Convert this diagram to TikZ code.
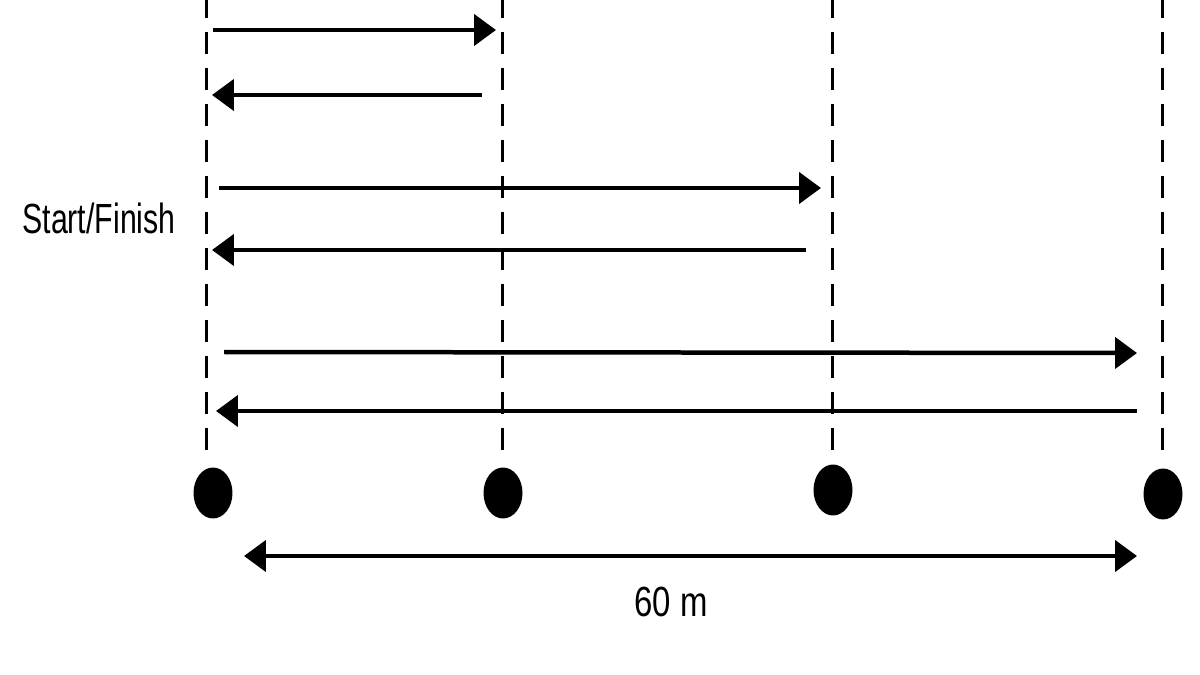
\documentclass[tikz,border=0pt]{standalone}
\usepackage{fontspec}
\setmainfont{Liberation Sans}
\usetikzlibrary{arrows.meta,shapes.geometric}
\begin{document}
\begin{tikzpicture}[x=0.02cm,y=-0.02cm,
  guide/.style={line width=0.06cm,dash pattern=on 0.44cm off 0.28cm},
  cone/.style={ellipse,fill=black,minimum width=0.78cm,minimum height=1.02cm,inner sep=0pt},
  run/.style={line width=0.09cm,-{Triangle[length=0.44cm,width=0.62cm]}},
  lbl/.style={font=\fontsize{24}{28}\selectfont,xscale=0.78,anchor=center}]
\useasboundingbox (0,0) rectangle (1200,675);
% cones
\node[cone] (d1) at (213,493) {};
\node[cone] (d2) at (503,493) {};
\node[cone] (d3) at (833,490) {};
\node[cone] (d4) at (1163,494) {};
% guide tops and bottoms
\coordinate (t1) at (206,-4); \coordinate (b1) at (206,458);
\coordinate (t2) at (502,-4); \coordinate (b2) at (502,458);
\coordinate (t3) at (832,-4); \coordinate (b3) at (832,458);
\coordinate (t4) at (1162,-4); \coordinate (b4) at (1162,458);
\draw[guide] (t1) -- (b1);
\draw[guide] (t2) -- (b2);
\draw[guide] (t3) -- (b3);
\draw[guide] (t4) -- (b4);
% runs
\coordinate (a1s) at (213,30); \coordinate (a1e) at (496,30);
\coordinate (a2s) at (482,95); \coordinate (a2e) at (212,95);
\coordinate (a3s) at (219,188); \coordinate (a3e) at (821,188);
\coordinate (a4s) at (806,250); \coordinate (a4e) at (212,250);
\coordinate (a5s) at (224,352); \coordinate (a5e) at (1137,353);
\coordinate (a6s) at (1137,411); \coordinate (a6e) at (216,411);
\draw[run] (a1s) -- (a1e);
\draw[run] (a2s) -- (a2e);
\draw[run] (a3s) -- (a3e);
\draw[run] (a4s) -- (a4e);
\draw[run] (a5s) -- (a5e);
\draw[run] (a6s) -- (a6e);
% distance
\coordinate (m1) at (244,556); \coordinate (m2) at (1137,556);
\draw[run,{Triangle[length=0.44cm,width=0.62cm]}-{Triangle[length=0.44cm,width=0.62cm]}] (m1) -- (m2);
\node[lbl] (dist) at (671,602) {60 m};
\node[lbl,xscale=0.92] (sf) at (99,218) {Start/Finish};
\end{tikzpicture}
\end{document}
